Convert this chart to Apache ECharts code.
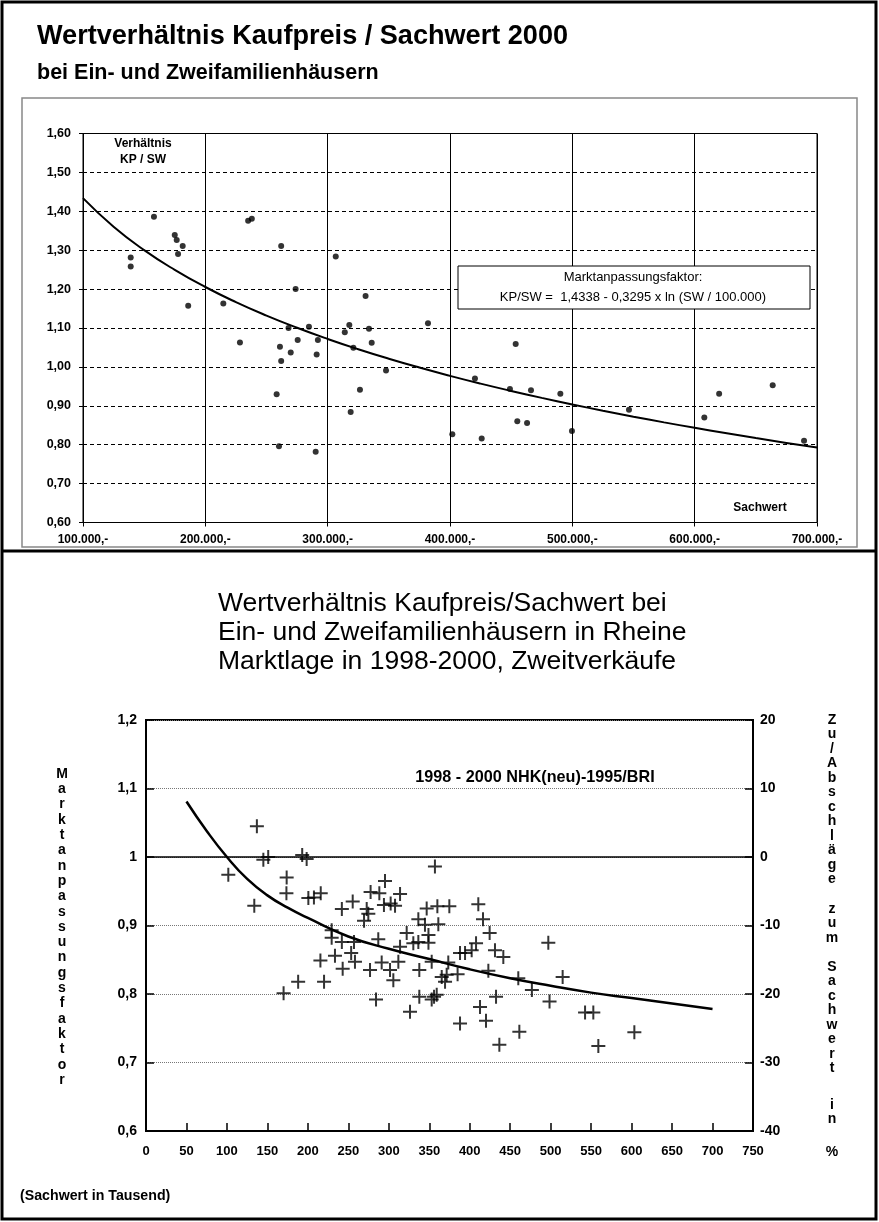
<!DOCTYPE html>
<html><head><meta charset="utf-8">
<script src="https://cdn.jsdelivr.net/npm/echarts/dist/echarts.min.js"></script>
<style>html,body{margin:0;padding:0;background:#fff}#c{width:879px;height:1222px}</style>
</head><body><div id="c"></div>
<script>
// ---------- upper chart: Wertverhältnis Kaufpreis / Sachwert 2000 ----------
const topTitle = 'Wertverhältnis Kaufpreis / Sachwert 2000';
const topSubtitle = 'bei Ein- und Zweifamilienhäusern';
const topXTickValues = [100, 200, 300, 400, 500, 600, 700]; // Sachwert in Tausend
const topYTickValues = [0.6, 0.7, 0.8, 0.9, 1.0, 1.1, 1.2, 1.3, 1.4, 1.5, 1.6];
const topPoints = [
  [139, 1.281], [139, 1.258], [158, 1.386], [175, 1.339], [176.6, 1.326], [181.5, 1.311],
  [177.7, 1.290], [186, 1.157], [214.7, 1.163], [235, 1.376], [238, 1.381], [262, 1.311],
  [306.6, 1.284], [273.8, 1.200], [331, 1.182], [382, 1.112], [268, 1.100], [284.7, 1.103],
  [317.7, 1.108], [314, 1.089], [333.8, 1.098], [228.3, 1.063], [261, 1.052], [275.5, 1.069],
  [292, 1.069], [269.8, 1.037], [291, 1.032], [321, 1.049], [336, 1.062], [262, 1.015],
  [347.7, 0.991], [258.3, 0.930], [326.4, 0.941], [318.8, 0.884], [260.2, 0.796], [290.2, 0.782],
  [401.9, 0.827], [425.9, 0.816], [420.4, 0.970], [453.7, 1.059], [449, 0.943], [466.2, 0.940],
  [490.2, 0.931], [546.3, 0.890], [607.9, 0.870], [620, 0.931], [663.8, 0.953], [689.4, 0.810],
  [455, 0.860], [463, 0.856], [499.7, 0.835]
];
// Fit curve KP/SW = 1,4338 - 0,3295 x ln(SW/100.000), values read at 25.000 steps
const topCurveX = [100,125,150,175,200,225,250,275,300,325,350,375,400,425,450,475,500,525,550,575,600,625,650,675,700];
const topCurveY = [1.4338,1.3603,1.3002,1.2494,1.2054,1.1666,1.1319,1.1005,1.0718,1.0454,1.0210,0.9983,0.9770,0.9570,0.9382,0.9204,0.9035,0.8874,0.8721,0.8574,0.8434,0.8300,0.8170,0.8046,0.7926];
const formulaLine1 = 'Marktanpassungsfaktor:';
const formulaLine2 = 'KP/SW =  1,4338 - 0,3295 x ln (SW / 100.000)';

// ---------- lower chart: Rheine 1998-2000 ----------
const botTitle = ['Wertverhältnis Kaufpreis/Sachwert bei', 'Ein- und Zweifamilienhäusern in Rheine', 'Marktlage in 1998-2000, Zweitverkäufe'];
const botInnerTitle = '1998 - 2000 NHK(neu)-1995/BRI';
const botXTickValues = [0,50,100,150,200,250,300,350,400,450,500,550,600,650,700,750];
const botLeftTicks = [0.6, 0.7, 0.8, 0.9, 1.0, 1.1, 1.2];
const botRightTicks = [-40, -30, -20, -10, 0, 10, 20];
const botPoints = [
  [101.7,0.974],[133.8,0.929],[137,1.045],[145,0.996],[151,1.000],[170,0.801],[173.8,0.970],[173.5,0.947],
  [188,0.818],[193,1.003],[198.5,0.997],[200.6,0.940],[207.5,0.941],[215.9,0.947],[215.5,0.849],[220,0.818],
  [229.4,0.893],[229.4,0.882],[233.5,0.856],[242,0.924],[242,0.876],[243,0.837],[253.5,0.860],[255.4,0.935],
  [257,0.876],[258.2,0.847],[269.4,0.907],[272.7,0.924],[274.7,0.917],[277.5,0.949],[276.8,0.835],[284.2,0.792],
  [287,0.880],[288.3,0.947],[291.2,0.846],[294,0.930],[295.3,0.965],
  [301.5,0.835],[302.3,0.932],[305.6,0.820],[307.7,0.929],[311.8,0.847],[313.9,0.946],[313.9,0.869],[322.1,0.889],
  [326.2,0.774],[330.3,0.874],[336.5,0.909],[336.5,0.876],[337.7,0.835],[337.7,0.796],[344.7,0.901],[346.8,0.925],
  [349,0.886],[349,0.875],[353,0.847],[353,0.792],[355.9,0.796],[359.2,0.799],[357,0.986],[360,0.928],[361.2,0.902],
  [365.4,0.825],[369.5,0.818],[371.5,0.828],[373.5,0.846],[374.8,0.928],[385,0.829],[388,0.860],[388,0.757],
  [394.2,0.860],[402.4,0.864],[407.8,0.874],[410.6,0.931],[412.7,0.781],[416.4,0.909],[420.1,0.761],[423,0.834],
  [424.6,0.889],[431.2,0.864],[432.5,0.796],[436.6,0.726],[441.5,0.854],
  [460,0.823],[461.3,0.745],[476.8,0.806],[497.1,0.875],[498.6,0.789],[514.8,0.825],[542.5,0.773],[552.7,0.773],
  [558.9,0.724],[603.4,0.744]
];
const botCurveX = [50,75,100,125,150,175,200,250,300,350,400,450,500,550,600,650,700];
const botCurveY = [1.081,1.038,1.000,0.968,0.944,0.926,0.911,0.884,0.866,0.851,0.836,0.823,0.812,0.802,0.794,0.786,0.778];
const leftAxisName = 'Marktanpassungsfaktor';
const rightAxisNameParts = ['Zu/Abschläge', 'zum', 'Sachwert', 'in', '%'];
const botXAxisNote = '(Sachwert in Tausend)';

// ---------- build ----------
const FONT = '"Liberation Sans", Arial, Helvetica, sans-serif';
const ctx = document.createElement('canvas').getContext('2d');
function textW(text, weight) {
  ctx.font = weight + ' 100px ' + FONT;
  return ctx.measureText(text).width / 100;
}
function fitSize(text, weight, targetW) {
  return Math.round(targetW / textW(text, weight) * 10) / 10;
}
const chart = echarts.init(document.getElementById('c'), null, {renderer: 'canvas'});
const zip = (xs, ys) => xs.map((x, i) => [x, ys[i]]);
const stack = s => s.split('').join('\n');
const plus = 'path://M6,0h2v6h6v2h-6v6h-2v-6h-6v-2h6z';

function txt(x, y, text, font, align, valign, lh) {
  const st = {x, y, text, font, fill: '#000', textAlign: align || 'left', textVerticalAlign: valign || 'middle'};
  if (lh) st.lineHeight = lh;
  return {type: 'text', z: 50, style: st};
}

const topTitleSize = fitSize(topTitle, 'bold', 531);
const topSubSize = fitSize(topSubtitle, 'bold', 341);
// one common size for the three title lines, matched to their total width in the picture
const botTitleSize = Math.round((470 + 468 + 437) / botTitle.reduce((s, t) => s + textW(t, 'normal'), 0) * 10) / 10;
const innerSize = fitSize(botInnerTitle, 'bold', 240);
const noteSize = fitSize(botXAxisNote, 'bold', 150);

const LH = 15.3;   // left stacked label
const LHR = 14.5;  // right stacked label
const rightCenters = [720, 909, 967, 1105, 1152]; // centre of first letter of each part
const rightParts = rightAxisNameParts.map((p, i) =>
  txt(832, rightCenters[i] - LHR / 2, stack(p), 'bold 14px ' + FONT, 'center', 'top', LHR));

const option = {
  animation: false,
  backgroundColor: '#fff',
  grid: [
    {left: 83, top: 133.5, width: 734, height: 389, show: true, borderColor: '#000', borderWidth: 1, backgroundColor: 'transparent'},
    {left: 146, top: 720, width: 607, height: 411, show: true, borderColor: '#000', borderWidth: 2, backgroundColor: 'transparent'}
  ],
  xAxis: [
    {gridIndex: 0, type: 'value', min: topXTickValues[0], max: topXTickValues[topXTickValues.length - 1], interval: 100,
     axisLine: {onZero: false, lineStyle: {color: '#000', width: 1}}, axisTick: {show: true, length: 4, lineStyle: {color: '#000'}},
     axisLabel: {margin: 11, color: '#000', fontFamily: FONT, fontWeight: 'bold', fontSize: 12, formatter: v => v + '.000,-'},
     splitLine: {show: true, lineStyle: {color: '#000', width: 1, type: 'solid'}}},
    {gridIndex: 1, type: 'value', min: botXTickValues[0], max: botXTickValues[botXTickValues.length - 1], interval: 50,
     axisLine: {onZero: false, lineStyle: {color: '#000', width: 2}}, axisTick: {show: true, inside: true, length: 8, lineStyle: {color: '#000', width: 1.5}},
     axisLabel: {margin: 14, color: '#000', fontFamily: FONT, fontWeight: 'bold', fontSize: 13, formatter: v => String(v)},
     splitLine: {show: false}}
  ],
  yAxis: [
    {gridIndex: 0, type: 'value', min: 0.6, max: 1.6, interval: 0.1,
     axisLine: {show: true, onZero: false, lineStyle: {color: '#000', width: 1}}, axisTick: {show: true, length: 4, lineStyle: {color: '#000'}},
     axisLabel: {margin: 12, color: '#000', fontFamily: FONT, fontWeight: 'bold', fontSize: 12.5, formatter: v => v.toFixed(2).replace('.', ',')},
     splitLine: {show: true, lineStyle: {color: '#000', width: 1, type: [4, 3]}}},
    {gridIndex: 1, type: 'value', min: 0.6, max: 1.2, interval: 0.1, position: 'left',
     axisLine: {show: true, onZero: false, lineStyle: {color: '#000', width: 2}}, axisTick: {show: true, inside: true, length: 8, lineStyle: {color: '#000', width: 1.5}},
     axisLabel: {margin: 9, color: '#000', fontFamily: FONT, fontWeight: 'bold', fontSize: 14,
       formatter: v => { const r = Math.round(v * 10) / 10; return r === 1 ? '1' : String(r).replace('.', ','); }},
     splitLine: {show: true, lineStyle: {color: '#777', width: 1, type: 'dotted'}}},
    {gridIndex: 1, type: 'value', min: -40, max: 20, interval: 10, position: 'right',
     axisLine: {show: true, onZero: false, lineStyle: {color: '#000', width: 2}}, axisTick: {show: true, inside: true, length: 8, lineStyle: {color: '#000', width: 1.5}},
     axisLabel: {margin: 7, color: '#000', fontFamily: FONT, fontWeight: 'bold', fontSize: 14, formatter: v => v < 0 ? '-' + Math.abs(v) : String(v)},
     splitLine: {show: false}}
  ],
  series: [
    {type: 'scatter', xAxisIndex: 0, yAxisIndex: 0, data: topPoints, symbol: 'circle', symbolSize: 6,
     itemStyle: {color: '#000'}, z: 5},
    {type: 'line', xAxisIndex: 0, yAxisIndex: 0, data: zip(topCurveX, topCurveY), smooth: true, showSymbol: false,
     lineStyle: {color: '#000', width: 2}, z: 4},
    {type: 'scatter', xAxisIndex: 1, yAxisIndex: 1, data: botPoints, symbol: plus, symbolSize: 14,
     itemStyle: {color: '#000'}, z: 5,
     markLine: {silent: true, symbol: 'none', label: {show: false}, lineStyle: {color: '#000', width: 1.5, type: 'solid'}, data: [{yAxis: 1}]}},
    {type: 'line', xAxisIndex: 1, yAxisIndex: 1, data: zip(botCurveX, botCurveY), smooth: true, showSymbol: false,
     lineStyle: {color: '#000', width: 2.5}, z: 4}
  ],
  graphic: [
    {type: 'rect', z: 60, shape: {x: 2, y: 2, width: 874, height: 1217}, style: {fill: 'none', stroke: '#000', lineWidth: 3}},
    {type: 'line', z: 60, shape: {x1: 2, y1: 551, x2: 876, y2: 551}, style: {stroke: '#000', lineWidth: 3}},
    {type: 'rect', z: 1, shape: {x: 22, y: 98, width: 835, height: 449}, style: {fill: 'none', stroke: '#888', lineWidth: 1.5}},
    txt(37, 37, topTitle, 'bold ' + topTitleSize + 'px ' + FONT),
    txt(37, 73, topSubtitle, 'bold ' + topSubSize + 'px ' + FONT),
    txt(143, 144, 'Verhältnis', 'bold 12px ' + FONT, 'center'),
    txt(143, 160, 'KP / SW', 'bold 12px ' + FONT, 'center'),
    txt(760, 508, 'Sachwert', 'bold 12px ' + FONT, 'center'),
    {type: 'rect', z: 40, shape: {x: 458, y: 266, width: 352, height: 43}, style: {fill: '#fff', stroke: '#000', lineWidth: 1}},
    txt(633, 277, formulaLine1, '13px ' + FONT, 'center'),
    txt(633, 297, formulaLine2, '13px ' + FONT, 'center'),
    txt(218, 604, botTitle[0], botTitleSize + 'px ' + FONT, 'left'),
    txt(218, 633, botTitle[1], botTitleSize + 'px ' + FONT, 'left'),
    txt(218, 662, botTitle[2], botTitleSize + 'px ' + FONT, 'left'),
    txt(535, 778, botInnerTitle, 'bold ' + innerSize + 'px ' + FONT, 'center'),
    txt(62, 774 - LH / 2, stack(leftAxisName), 'bold 14px ' + FONT, 'center', 'top', LH),
    ...rightParts,
    txt(20, 1196, botXAxisNote, 'bold ' + noteSize + 'px ' + FONT)
  ]
};
chart.setOption(option);
</script>
</body></html>
